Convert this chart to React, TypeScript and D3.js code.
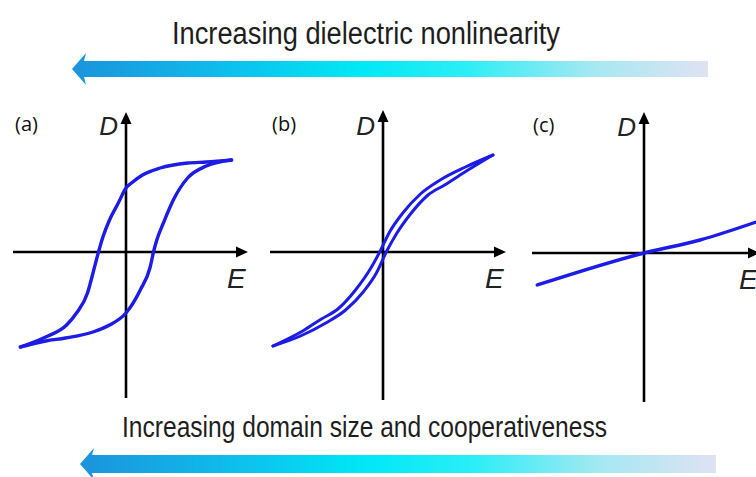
import React from "react";
import * as d3 from "d3";

// Normalised field (E) and displacement (D) values for each D–E curve.
// (a) ferroelectric: wide hysteresis loop
const loopA_upperE = [0.96, 0.73, 0.56, 0.31, 0.15, 0.05, 0, -0.07, -0.15, -0.21, -0.25, -0.3, -0.35, -0.45, -0.54, -0.73, -0.96];
const loopA_upperD = [0.92, 0.9, 0.89, 0.84, 0.77, 0.69, 0.64, 0.49, 0.32, 0.15, 0, -0.21, -0.41, -0.61, -0.73, -0.85, -0.95];
const loopA_lowerE = [-0.96, -0.73, -0.55, -0.3, -0.15, 0, 0.13, 0.22, 0.25, 0.28, 0.34, 0.43, 0.56, 0.73, 0.96];
const loopA_lowerD = [-0.95, -0.89, -0.86, -0.8, -0.73, -0.61, -0.38, -0.15, 0, 0.12, 0.29, 0.52, 0.74, 0.86, 0.92];

// (b) relaxor: slim loop
const loopB_upperE = [1.0, 0.75, 0.52, 0.34, 0.18, 0.06, -0.03, -0.11, -0.25, -0.41, -0.56, -0.73, -1.0];
const loopB_upperD = [0.97, 0.85, 0.72, 0.58, 0.39, 0.2, 0, -0.16, -0.38, -0.57, -0.67, -0.79, -0.94];
const loopB_lowerE = [-1.0, -0.75, -0.52, -0.34, -0.18, -0.06, 0.03, 0.11, 0.25, 0.41, 0.56, 0.73, 1.0];
const loopB_lowerD = [-0.94, -0.84, -0.71, -0.58, -0.4, -0.21, 0, 0.16, 0.38, 0.57, 0.67, 0.79, 0.97];

// (c) linear dielectric
const lineC_E = [-0.97, 0, 0.51, 1.02];
const lineC_D = [-0.32, 0, 0.13, 0.31];

const panelLabels = ["(a)", "(b)", "(c)"];
const axisLabelD = "D";
const axisLabelE = "E";
const topCaption = "Increasing dielectric nonlinearity";
const bottomCaption = "Increasing domain size and cooperativeness";

const W = 756;
const H = 477;
const BLUE = "#1c1ce6";

type Pt = [number, number];
// each branch is single-valued in E, so sort by E for a monotone spline
const zip = (e: number[], d: number[]): Pt[] =>
  e.map((v, i) => [v, d[i]] as Pt).sort((p, q) => p[0] - q[0]);

interface PanelSpec {
  label: string;
  ox: number;
  oy: number;
  xLeft: number;
  xRight: number;
  yTop: number;
  yBottom: number;
  series: Pt[][];
  strokeWidth: number;
}

const panels: PanelSpec[] = [
  {
    label: panelLabels[0], ox: 126, oy: 252, xLeft: 13, xRight: 248, yTop: 112, yBottom: 398,
    series: [zip(loopA_upperE, loopA_upperD), zip(loopA_lowerE, loopA_lowerD)], strokeWidth: 3.4,
  },
  {
    label: panelLabels[1], ox: 383, oy: 252, xLeft: 270, xRight: 506, yTop: 110, yBottom: 400,
    series: [zip(loopB_upperE, loopB_upperD), zip(loopB_lowerE, loopB_lowerD)], strokeWidth: 3,
  },
  {
    label: panelLabels[2], ox: 644, oy: 253, xLeft: 532, xRight: 760, yTop: 112, yBottom: 402,
    series: [zip(lineC_E, lineC_D)], strokeWidth: 3.4,
  },
];

function Panel({ p }: { p: PanelSpec }) {
  const x = d3.scaleLinear().domain([-1, 1]).range([p.ox - 110, p.ox + 110]);
  const y = d3.scaleLinear().domain([-1, 1]).range([p.oy + 100, p.oy - 100]);
  const line = d3
    .line<Pt>()
    .x((d) => x(d[0]))
    .y((d) => y(d[1]))
    .curve(d3.curveMonotoneX);
  const ah = 12; // arrowhead length
  const aw = 5.5; // arrowhead half width
  return (
    <g>
      <text x={p.ox - 111} y={p.oy - 121} fontFamily="'Open Sans', 'Liberation Sans', sans-serif" fontSize={20} fill="#111">
        {p.label}
      </text>
      {/* vertical D axis */}
      <line x1={p.ox} x2={p.ox} y1={p.yBottom} y2={p.yTop + ah - 1} stroke="#000" strokeWidth={2.6} />
      <path d={`M${p.ox},${p.yTop} L${p.ox - aw},${p.yTop + ah} L${p.ox + aw},${p.yTop + ah} Z`} fill="#000" />
      {/* horizontal E axis */}
      <line x1={p.xLeft} x2={p.xRight - ah + 1} y1={p.oy} y2={p.oy} stroke="#000" strokeWidth={2.6} />
      <path d={`M${p.xRight},${p.oy} L${p.xRight - ah},${p.oy - aw} L${p.xRight - ah},${p.oy + aw} Z`} fill="#000" />
      <text x={p.ox - 8} y={p.oy - 117} textAnchor="end" fontFamily="'Liberation Sans', Arial, sans-serif" fontStyle="italic" fontSize={26} fill="#222">
        {axisLabelD}
      </text>
      <text x={p.xRight - 21} y={p.oy + 36} fontFamily="'Liberation Sans', Arial, sans-serif" fontStyle="italic" fontSize={28} fill="#222">
        {axisLabelE}
      </text>
      {p.series.map((s, i) => (
        <path key={i} d={line(s) ?? ""} fill="none" stroke={BLUE} strokeWidth={p.strokeWidth} strokeLinecap="round" strokeLinejoin="round" />
      ))}
    </g>
  );
}

function GradientArrow({ id, tipX, endX, cy, shaft, headHalf, headLen }: { id: string; tipX: number; endX: number; cy: number; shaft: number; headHalf: number; headLen: number }) {
  const s = shaft / 2;
  const d = `M${tipX},${cy} L${tipX + headLen},${cy - headHalf} L${tipX + headLen - 2},${cy - s} L${endX},${cy - s} L${endX},${cy + s} L${tipX + headLen - 2},${cy + s} L${tipX + headLen},${cy + headHalf} Z`;
  return (
    <g>
      <defs>
        <linearGradient id={id} gradientUnits="userSpaceOnUse" x1={tipX} x2={endX} y1={0} y2={0}>
          <stop offset="0" stopColor="#1c93dc" />
          <stop offset="0.2" stopColor="#10b6ea" />
          <stop offset="0.45" stopColor="#00e8f6" />
          <stop offset="0.62" stopColor="#2ceef6" />
          <stop offset="0.82" stopColor="#a6e8f2" />
          <stop offset="1" stopColor="#dfe2f3" />
        </linearGradient>
      </defs>
      <path d={d} fill={`url(#${id})`} />
    </g>
  );
}

export default function App() {
  return (
    <div style={{ position: "absolute", left: 0, top: 0 }}>
      <svg width={W} height={H} viewBox={`0 0 ${W} ${H}`} style={{ display: "block", background: "#fff" }}>
        <text x={172} y={44} fontFamily="'Liberation Sans Narrow', 'Arial Narrow', 'Liberation Sans', sans-serif" fontSize={31} fill="#1e1e1e" textLength={388} lengthAdjust="spacingAndGlyphs">
          {topCaption}
        </text>
        <GradientArrow id="gTop" tipX={72} endX={708} cy={69} shaft={16} headHalf={16} headLen={14} />
        {panels.map((p) => (
          <Panel key={p.label} p={p} />
        ))}
        <text x={122} y={437} fontFamily="'Liberation Sans Narrow', 'Arial Narrow', 'Liberation Sans', sans-serif" fontSize={30} fill="#1e1e1e" textLength={485} lengthAdjust="spacingAndGlyphs">
          {bottomCaption}
        </text>
        <GradientArrow id="gBottom" tipX={80} endX={716} cy={464} shaft={18} headHalf={16} headLen={14} />
      </svg>
    </div>
  );
}
